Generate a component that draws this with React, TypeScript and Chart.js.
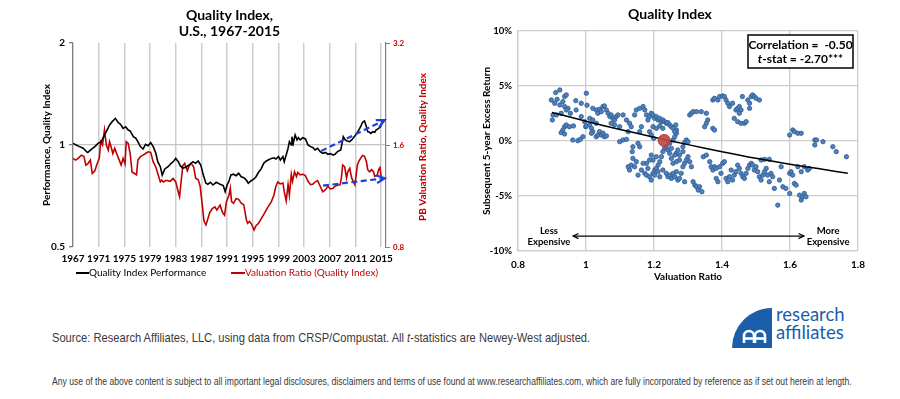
import React, { useEffect, useLayoutEffect, useRef } from "react";
import { Chart, registerables } from "chart.js";

Chart.register(...registerables);

const FONT = "Lato, 'DejaVu Sans', sans-serif";
const NARROW = "'Liberation Sans', 'DejaVu Sans', sans-serif";
const RED = "#c00000";
const BLUE_ARROW = "#2040d8";

// ---------- Left panel data ----------
const leftTitle = ["Quality Index,", "U.S., 1967-2015"];
const leftAxisTitle = "Performance, Quality Index";
const rightAxisTitle = "PB Valuation Ratio, Quality Index";
const perfLabel = "Quality Index Performance";
const pbLabel = "Valuation Ratio (Quality Index)";
const yearTicks = [1967, 1971, 1975, 1979, 1983, 1987, 1991, 1995, 1999, 2003, 2007, 2011, 2015];
const perfTicks = [0.5, 1, 2];
const pbTicks = [0.8, 1.6, 3.2];

// [year, quality index performance]
const perfSeries: [number, number][] = [
  [1967.0, 1.011], [1967.5, 1.0], [1968.0, 0.989], [1968.6, 0.978], [1969.1, 0.956], [1969.3, 0.951],
  [1969.9, 0.973], [1970.4, 0.989], [1970.9, 1.011], [1971.4, 1.023], [1971.9, 1.07], [1972.3, 1.107],
  [1972.7, 1.146], [1973.1, 1.172], [1973.6, 1.198], [1974.0, 1.167], [1974.4, 1.151], [1974.8, 1.12],
  [1975.2, 1.132], [1975.6, 1.107], [1975.9, 1.1], [1976.4, 1.058], [1976.8, 1.046], [1977.1, 1.023],
  [1977.5, 0.989], [1977.9, 0.973], [1978.3, 1.005], [1978.7, 0.995], [1979.1, 1.016], [1979.5, 0.989],
  [1979.9, 0.945], [1980.2, 0.893], [1980.6, 0.863], [1980.9, 0.815], [1981.3, 0.85], [1981.8, 0.863],
  [1982.3, 0.883], [1982.7, 0.897], [1983.0, 0.913], [1983.4, 0.893], [1983.7, 0.869], [1984.1, 0.854],
  [1984.7, 0.863], [1985.2, 0.877], [1985.7, 0.893], [1986.1, 0.883], [1986.5, 0.897], [1986.9, 0.873],
  [1987.3, 0.815], [1987.7, 0.771], [1988.0, 0.766], [1988.4, 0.776], [1988.8, 0.762], [1989.3, 0.776],
  [1989.9, 0.766], [1990.4, 0.759], [1990.7, 0.728], [1991.0, 0.762], [1991.3, 0.783], [1991.6, 0.816],
  [1992.0, 0.82], [1992.4, 0.812], [1992.8, 0.825], [1993.2, 0.806], [1993.6, 0.801], [1994.0, 0.788],
  [1994.3, 0.771], [1994.7, 0.783], [1995.2, 0.794], [1995.5, 0.806], [1995.9, 0.831], [1996.3, 0.85],
  [1996.7, 0.883], [1997.1, 0.897], [1997.4, 0.903], [1997.9, 0.913], [1998.3, 0.917], [1998.6, 0.909],
  [1999.0, 0.924], [1999.3, 0.903], [1999.7, 0.924], [1999.9, 0.893], [2000.2, 0.934], [2000.5, 0.978],
  [2000.7, 1.023], [2001.0, 1.0], [2001.1, 1.058], [2001.3, 1.011], [2001.6, 1.07], [2001.9, 1.035],
  [2002.1, 1.051], [2002.4, 1.035], [2002.8, 1.051], [2003.2, 1.042], [2003.6, 1.0], [2004.0, 0.989],
  [2004.4, 0.982], [2004.7, 0.967], [2005.1, 0.978], [2005.5, 0.956], [2005.9, 0.945], [2006.3, 0.951],
  [2006.7, 0.939], [2007.1, 0.943], [2007.5, 0.934], [2007.8, 0.939], [2008.2, 0.956], [2008.7, 0.967],
  [2008.9, 1.011], [2009.1, 1.058], [2009.4, 1.035], [2009.7, 1.028], [2010.1, 1.023], [2010.4, 1.035],
  [2010.8, 1.058], [2011.2, 1.082], [2011.5, 1.107], [2011.8, 1.132], [2012.1, 1.167], [2012.4, 1.177],
  [2012.7, 1.132], [2012.9, 1.095], [2013.2, 1.09], [2013.4, 1.082], [2013.7, 1.095], [2014.0, 1.09],
  [2014.2, 1.107], [2014.6, 1.12], [2014.9, 1.132], [2015.1, 1.159],
];

// [year, PB valuation ratio]
const pbSeries: [number, number][] = [
  [1967.0, 1.461], [1967.4, 1.444], [1967.8, 1.461], [1968.3, 1.493], [1968.7, 1.482], [1969.0, 1.396],
  [1969.3, 1.408], [1969.7, 1.444], [1970.0, 1.318], [1970.4, 1.342], [1970.7, 1.396], [1971.1, 1.467],
  [1971.3, 1.636], [1971.6, 1.6], [1971.9, 1.772], [1972.2, 1.6], [1972.5, 1.546], [1972.7, 1.636],
  [1973.0, 1.564], [1973.2, 1.51], [1973.5, 1.564], [1973.9, 1.493], [1974.2, 1.444], [1974.5, 1.396],
  [1974.8, 1.461], [1975.1, 1.408], [1975.3, 1.636], [1975.6, 1.618], [1975.9, 1.51], [1976.2, 1.33],
  [1976.6, 1.318], [1976.9, 1.306], [1977.1, 1.444], [1977.5, 1.478], [1977.9, 1.493], [1978.3, 1.51],
  [1978.7, 1.528], [1979.1, 1.522], [1979.5, 1.426], [1979.9, 1.378], [1980.2, 1.318], [1980.6, 1.245],
  [1980.8, 1.259], [1981.1, 1.245], [1981.5, 1.259], [1982.1, 1.25], [1982.6, 1.274], [1983.0, 1.245],
  [1983.4, 1.163], [1983.6, 1.126], [1984.1, 1.39], [1984.4, 1.412], [1984.8, 1.342], [1985.1, 1.39],
  [1985.4, 1.412], [1985.8, 1.378], [1986.1, 1.276], [1986.5, 1.264], [1986.8, 1.21], [1987.2, 1.039],
  [1987.4, 0.954], [1987.7, 0.929], [1987.9, 0.954], [1988.3, 1.011], [1988.7, 1.039], [1989.1, 1.051],
  [1989.4, 1.028], [1989.9, 1.063], [1990.3, 1.011], [1990.6, 0.993], [1990.9, 1.089], [1991.3, 1.137],
  [1991.5, 1.192], [1991.7, 1.089], [1992.0, 1.077], [1992.4, 1.111], [1992.8, 1.106], [1993.2, 1.077],
  [1993.6, 1.065], [1994.0, 0.963], [1994.2, 0.94], [1994.5, 0.952], [1994.8, 0.935], [1995.2, 0.898],
  [1995.5, 0.925], [1995.9, 0.94], [1996.3, 0.969], [1996.7, 0.997], [1997.1, 1.029], [1997.4, 1.053],
  [1997.9, 1.089], [1998.3, 1.139], [1998.6, 1.209], [1998.9, 1.244], [1999.3, 1.228], [1999.7, 1.236],
  [1999.9, 1.165], [2000.2, 1.094], [2000.5, 1.222], [2000.7, 1.139], [2001.0, 1.311], [2001.2, 1.25],
  [2001.5, 1.334], [2001.8, 1.291], [2002.0, 1.328], [2002.4, 1.306], [2002.8, 1.311], [2003.2, 1.3],
  [2003.6, 1.25], [2004.0, 1.222], [2004.4, 1.228], [2004.7, 1.244], [2005.1, 1.256], [2005.5, 1.209],
  [2005.9, 1.165], [2006.3, 1.179], [2006.7, 1.209], [2007.1, 1.187], [2007.5, 1.192], [2007.8, 1.209],
  [2008.2, 1.217], [2008.6, 1.222], [2008.8, 1.279], [2009.0, 1.397], [2009.3, 1.382], [2009.6, 1.279],
  [2009.8, 1.334], [2010.1, 1.366], [2010.4, 1.279], [2010.7, 1.244], [2010.9, 1.222], [2011.3, 1.397],
  [2011.5, 1.43], [2011.8, 1.464], [2012.1, 1.49], [2012.4, 1.482], [2012.7, 1.43], [2012.9, 1.353],
  [2013.2, 1.334], [2013.5, 1.353], [2013.8, 1.334], [2014.0, 1.293], [2014.4, 1.306], [2014.6, 1.353],
  [2014.8, 1.372], [2015.0, 1.293],
];

// dashed blue trend arrows: [fromYear, fromValue, toYear, toValue]
const perfArrow: [number, number, number, number] = [2005.65, 0.96, 2015.55, 1.185];
const pbArrow: [number, number, number, number] = [2005.94, 1.214, 2015.55, 1.276];

// ---------- Right panel data ----------
const rightTitle = "Quality Index";
const rightYTitle = "Subsequent 5-year Excess Return";
const rightXTitle = "Valuation Ratio";
const ratioTicks = [0.8, 1, 1.2, 1.4, 1.6, 1.8];
const returnTicks = [-10, -5, 0, 5, 10];
const statLines = ["Correlation =  -0.50", "-stat = -2.70***"];
const cheapLabel = ["Less", "Expensive"];
const richLabel = ["More", "Expensive"];
const expenseArrow: [number, number, number] = [0.962, 1.641, -8.64];
const cheapLabelPos: [number, number] = [0.891, -8.64];
const richLabelPos: [number, number] = [1.712, -8.64];
const currentPoint: [number, number] = [1.23, 0.05];

// fitted curve [valuation ratio, excess return %]
const fitCurve: [number, number][] = [
  [0.9, 2.6], [1.0, 1.8], [1.1, 1.05], [1.2, 0.35], [1.3, -0.33], [1.4, -0.97],
  [1.5, -1.57], [1.6, -2.12], [1.7, -2.6], [1.77, -2.94],
];

// [valuation ratio, subsequent 5-year excess return %]
const scatterPoints: [number, number][] = [
  [0.911, 4.4], [0.923, 4.64], [0.937, 4.04], [0.942, 4.19], [0.97, 3.67], [0.986, 3.43], [1.001, 4.34],
  [1.003, 3.25], [0.898, 3.73], [0.908, 3.43], [0.915, 3.79], [0.923, 3.28], [0.932, 3.58], [0.937, 3.13],
  [0.947, 2.97], [0.954, 2.52], [0.903, 2.37], [0.901, 1.91], [0.913, 2.37], [0.927, 2.52], [0.942, 2.82],
  [0.971, 2.82], [0.986, 2.22], [0.996, 1.76], [0.999, 1.3], [1.001, 1.37], [0.937, 1.3], [0.942, 1.46],
  [0.932, 1.0], [0.927, 0.76], [0.937, 0.64], [0.951, 1.3], [0.963, 1.37], [0.961, 0.09], [0.976, 0.03],
  [0.983, 0.15], [0.991, 0.39], [1.011, 1.46], [1.016, 1.15], [1.02, 0.85], [1.03, 0.39], [1.035, 0.55],
  [1.04, 0.85], [1.045, 0.55], [1.05, 0.7], [1.054, 0.39], [1.06, 0.46], [1.011, 2.06], [1.02, 2.97],
  [1.03, 2.82], [1.035, 2.52], [1.04, 2.88], [1.045, 2.67], [1.05, 3.13], [1.054, 3.19], [1.06, 2.82],
  [1.065, 2.52], [1.07, 2.22], [1.074, 2.37], [1.079, 2.06], [1.084, 1.91], [1.089, 2.22], [1.094, 2.37],
  [1.084, 1.46], [1.099, 1.3], [1.074, 1.61], [1.02, 1.91], [1.03, 1.61], [1.016, 0.7], [1.099, -0.06],
  [1.109, 0.09], [1.119, 0.15], [1.109, 2.37], [1.119, 1.91], [1.128, 1.61], [1.133, 1.3], [1.124, 0.85],
  [1.143, 2.37], [1.148, 2.82], [1.158, 2.97], [1.168, 3.13], [1.173, 2.82], [1.178, 2.37], [1.182, 1.91],
  [1.187, 2.22], [1.192, 2.52], [1.197, 2.37], [1.202, 2.06], [1.207, 2.22], [1.212, 1.91], [1.217, 2.06],
  [1.222, 1.76], [1.226, 1.91], [1.231, 1.76], [1.236, 1.61], [1.241, 1.67], [1.246, 1.46], [1.251, 1.3],
  [1.256, 1.15], [1.264, 1.46], [1.266, 1.0], [1.197, 1.3], [1.207, 1.15], [1.217, 1.37], [1.226, 1.15],
  [1.187, 0.85], [1.192, 0.55], [1.199, 0.24], [1.163, 1.3], [1.158, 0.85], [1.153, -0.21], [1.158, -0.52],
  [1.138, -0.52], [1.136, -0.97], [1.138, -1.58], [1.133, -2.19], [1.124, -2.34], [1.128, -2.64],
  [1.143, -2.34], [1.148, -1.88], [1.153, -3.1], [1.173, -2.94], [1.178, -3.1], [1.187, -3.25],
  [1.192, -3.55], [1.197, -2.94], [1.202, -2.64], [1.207, -2.49], [1.212, -2.19], [1.217, -1.88],
  [1.222, -1.43], [1.226, -0.97], [1.231, -0.67], [1.236, -0.52], [1.241, -0.82], [1.246, -1.12],
  [1.251, -1.58], [1.256, -2.03], [1.197, -1.73], [1.178, -2.03], [1.236, -2.94], [1.241, -3.25],
  [1.246, -3.1], [1.251, -3.4], [1.256, -2.94], [1.261, -3.25], [1.266, -2.79], [1.27, -3.55], [1.275, -3.4],
  [1.28, -2.94], [1.285, -2.34], [1.29, -2.03], [1.295, -1.73], [1.3, -1.43], [1.305, -1.88], [1.31, -2.34],
  [1.315, -3.7], [1.32, -4.01], [1.325, -4.16], [1.33, -4.46], [1.334, -4.16], [1.341, -4.61], [1.29, -3.7],
  [1.275, -1.28], [1.266, -1.12], [1.27, -0.82], [1.285, -0.52], [1.29, -0.15], [1.295, 0.09], [1.3, -0.06],
  [1.285, -0.97], [1.275, -1.73], [1.266, -1.88], [1.261, -1.28], [1.251, -0.67], [1.246, -0.21],
  [1.256, 0.09], [1.261, 0.39], [1.266, 0.7], [1.261, 0.85], [1.305, 2.37], [1.31, 2.52], [1.315, 2.67],
  [1.325, 2.67], [1.339, 2.67], [1.354, 2.52], [1.358, 1.91], [1.354, 1.61], [1.349, 1.3], [1.373, 1.15],
  [1.378, 1.0], [1.373, 3.73], [1.378, 3.88], [1.388, 3.73], [1.393, 4.04], [1.402, 4.1], [1.407, 4.04],
  [1.412, 3.73], [1.417, 3.43], [1.422, 3.13], [1.431, 3.43], [1.441, 2.82], [1.446, 2.97], [1.451, 3.13],
  [1.456, 2.82], [1.451, 2.52], [1.436, 2.06], [1.446, 1.76], [1.456, 1.61], [1.466, 1.61], [1.471, 1.76],
  [1.46, 4.04], [1.476, 3.73], [1.481, 3.43], [1.486, 4.04], [1.49, 4.19], [1.495, 4.04], [1.5, 3.88],
  [1.51, 3.73], [1.481, 2.97], [1.345, -1.43], [1.354, -1.28], [1.364, -1.88], [1.368, -2.34],
  [1.373, -2.64], [1.378, -2.34], [1.383, -2.49], [1.393, -2.34], [1.402, -2.03], [1.407, -1.88],
  [1.412, -3.4], [1.417, -3.7], [1.422, -3.25], [1.431, -3.55], [1.436, -3.1], [1.441, -2.79],
  [1.446, -2.19], [1.451, -2.49], [1.456, -2.94], [1.461, -3.25], [1.466, -3.4], [1.471, -2.94],
  [1.476, -2.49], [1.481, -2.19], [1.486, -2.03], [1.49, -2.19], [1.495, -2.64], [1.5, -2.34],
  [1.505, -2.79], [1.51, -3.25], [1.515, -3.55], [1.52, -3.1], [1.525, -2.79], [1.53, -2.49], [1.534, -3.1],
  [1.539, -3.7], [1.544, -2.94], [1.549, -3.25], [1.554, -4.31], [1.564, -5.83], [1.569, -3.55],
  [1.574, -2.34], [1.515, -1.73], [1.525, -1.67], [1.539, -1.67], [1.427, -2.64], [1.397, -2.94],
  [1.383, -3.4], [1.388, -3.7], [1.579, -4.16], [1.588, -4.31], [1.599, -4.77], [1.599, -2.94],
  [1.603, -2.79], [1.608, -3.1], [1.613, -3.86], [1.618, -4.01], [1.623, -2.34], [1.628, -4.92],
  [1.633, -5.37], [1.637, -5.07], [1.642, -4.77], [1.647, -5.07], [1.633, -2.79], [1.642, -2.34],
  [1.652, -2.64], [1.657, -2.49], [1.599, 0.55], [1.608, 1.0], [1.613, 0.85], [1.623, 0.7], [1.633, 0.7],
  [1.673, 0.09], [1.673, -0.36], [1.678, 0.09], [1.697, -0.06], [1.726, -0.52], [1.736, -0.97],
  [1.766, -1.43], [1.168, -2.03], [1.163, -2.64], [1.182, -2.49], [1.202, -3.1], [1.212, -2.79],
  [1.217, -3.25], [1.226, -2.64], [1.192, -1.28], [1.207, -1.43], [1.187, -1.73],
];

// ---------- Footer text ----------
const sourceBefore = "Source: Research Affiliates, LLC, using data from CRSP/Compustat. All ";
const sourceAfter = "-statistics are Newey-West adjusted.";
const disclaimer =
  "Any use of the above content is subject to all important legal disclosures, disclaimers and terms of use found at www.researchaffiliates.com, which are fully incorporated by reference as if set out herein at length.";

function drawArrow(
  ctx: CanvasRenderingContext2D,
  x1: number, y1: number, x2: number, y2: number,
  color: string, width: number, dash: number[], headLen: number, bothEnds = false
) {
  ctx.save();
  ctx.strokeStyle = color;
  ctx.lineWidth = width;
  ctx.setLineDash(dash);
  ctx.beginPath();
  ctx.moveTo(x1, y1);
  ctx.lineTo(x2, y2);
  ctx.stroke();
  ctx.setLineDash([]);
  const head = (tx: number, ty: number, fx: number, fy: number) => {
    const ang = Math.atan2(ty - fy, tx - fx);
    ctx.beginPath();
    ctx.moveTo(tx - headLen * Math.cos(ang - 0.45), ty - headLen * Math.sin(ang - 0.45));
    ctx.lineTo(tx, ty);
    ctx.lineTo(tx - headLen * Math.cos(ang + 0.45), ty - headLen * Math.sin(ang + 0.45));
    ctx.stroke();
  };
  head(x2, y2, x1, y1);
  if (bothEnds) head(x1, y1, x2, y2);
  ctx.restore();
}

function LeftChart() {
  const ref = useRef<HTMLCanvasElement>(null);
  useEffect(() => {
    const decor = {
      id: "leftDecor",
      afterDatasetsDraw(chart: any) {
        const { ctx, scales } = chart;
        const { x, y, y1 } = scales;
        drawArrow(ctx, x.getPixelForValue(perfArrow[0]), y.getPixelForValue(perfArrow[1]),
          x.getPixelForValue(perfArrow[2]), y.getPixelForValue(perfArrow[3]), BLUE_ARROW, 2.2, [6, 3.5], 9);
        drawArrow(ctx, x.getPixelForValue(pbArrow[0]), y1.getPixelForValue(pbArrow[1]),
          x.getPixelForValue(pbArrow[2]), y1.getPixelForValue(pbArrow[3]), BLUE_ARROW, 2.2, [6, 3.5], 9);
      },
      afterDraw(chart: any) {
        const { ctx, chartArea: ca } = chart;
        ctx.save();
        const cx = (ca.left + ca.right) / 2;
        const cy = (ca.top + ca.bottom) / 2;
        ctx.textAlign = "center";
        ctx.textBaseline = "middle";
        ctx.fillStyle = "#000";
        ctx.font = `bold 14px ${FONT}`;
        ctx.fillText(leftTitle[0], cx, 15);
        ctx.fillText(leftTitle[1], cx, 31);
        ctx.font = `bold 10px ${FONT}`;
        ctx.save();
        ctx.translate(47, cy);
        ctx.rotate(-Math.PI / 2);
        ctx.fillText(leftAxisTitle, 0, 0);
        ctx.restore();
        ctx.fillStyle = RED;
        ctx.save();
        ctx.translate(423, cy + 2);
        ctx.rotate(-Math.PI / 2);
        ctx.fillText(rightAxisTitle, 0, 0);
        ctx.restore();
        // legend
        const ly = 273;
        ctx.lineWidth = 2;
        ctx.strokeStyle = "#000";
        ctx.beginPath();
        ctx.moveTo(76, ly);
        ctx.lineTo(89, ly);
        ctx.stroke();
        ctx.textAlign = "left";
        ctx.font = `10px ${FONT}`;
        ctx.fillStyle = "#000";
        ctx.fillText(perfLabel, 89, ly);
        ctx.strokeStyle = RED;
        ctx.beginPath();
        ctx.moveTo(231, ly);
        ctx.lineTo(245, ly);
        ctx.stroke();
        ctx.fillStyle = RED;
        ctx.fillText(pbLabel, 245, ly);
        ctx.restore();
      },
    };
    const chart = new Chart(ref.current!, {
      type: "line",
      data: {
        datasets: [
          {
            label: perfLabel,
            data: perfSeries.map(([x, y]) => ({ x, y })),
            borderColor: "#000",
            borderWidth: 1.6,
            pointRadius: 0,
            yAxisID: "y",
          },
          {
            label: pbLabel,
            data: pbSeries.map(([x, y]) => ({ x, y })),
            borderColor: RED,
            borderWidth: 1.6,
            pointRadius: 0,
            yAxisID: "y1",
          },
        ],
      },
      options: {
        responsive: false,
        animation: false,
        events: [],
        layout: { padding: { top: 43, left: 0, right: 0, bottom: 0 } },
        plugins: { legend: { display: false }, title: { display: false }, tooltip: { enabled: false } },
        scales: {
          x: {
            type: "linear",
            min: 1967,
            max: 2015.75,
            afterBuildTicks: (s: any) => { s.ticks = yearTicks.map((v) => ({ value: v })); },
            afterFit: (s: any) => { s.height = 43; },
            grid: { color: "#cdcdcd", lineWidth: 1.5, drawTicks: false },
            border: { display: false },
            ticks: {
              color: "#000",
              font: { family: FONT, size: 10, weight: "bold" },
              padding: 6,
              maxRotation: 0,
              autoSkip: false,
              callback: (v: any) => String(v),
            },
          },
          y: {
            type: "logarithmic",
            position: "left",
            min: 0.5,
            max: 2,
            afterBuildTicks: (s: any) => { s.ticks = perfTicks.map((v) => ({ value: v })); },
            afterFit: (s: any) => { s.width = 73; },
            grid: {
              color: (c: any) => (c.tick && c.tick.value === 1 ? "#c4c4c4" : "rgba(0,0,0,0)"),
              lineWidth: 1.3,
              tickColor: "#808080",
              tickLength: 4,
            },
            border: { display: true, color: "#808080", width: 1.2 },
            ticks: {
              color: "#000",
              font: { family: FONT, size: 10, weight: "bold" },
              padding: 4,
              callback: (v: any) => String(v),
            },
          },
          y1: {
            type: "logarithmic",
            position: "right",
            min: 0.8,
            max: 3.2,
            afterBuildTicks: (s: any) => { s.ticks = pbTicks.map((v) => ({ value: v })); },
            afterFit: (s: any) => { s.width = 64; },
            grid: { drawOnChartArea: false, tickColor: "#808080", tickLength: 4 },
            border: { display: true, color: "#808080", width: 1.2 },
            ticks: {
              color: RED,
              font: { family: FONT, size: 8, weight: "bold" },
              padding: 3,
              callback: (v: any) => String(v),
            },
          },
        },
      },
      plugins: [decor],
    } as any);
    return () => chart.destroy();
  }, []);
  return (
    <canvas
      ref={ref}
      width={450}
      height={290}
      style={{ position: "absolute", left: 0, top: 0, width: 450, height: 290 }}
    />
  );
}

function RightChart() {
  const ref = useRef<HTMLCanvasElement>(null);
  useEffect(() => {
    const decor = {
      id: "rightDecor",
      afterDraw(chart: any) {
        const { ctx, chartArea: ca, scales } = chart;
        const { x, y } = scales;
        ctx.save();
        ctx.textAlign = "center";
        ctx.textBaseline = "middle";
        ctx.fillStyle = "#000";
        ctx.font = `bold 14px ${FONT}`;
        ctx.fillText(rightTitle, 220, 14);
        ctx.font = `bold 10px ${FONT}`;
        ctx.fillText(rightXTitle, (ca.left + ca.right) / 2, 277);
        ctx.save();
        ctx.translate(37, (ca.top + ca.bottom) / 2);
        ctx.rotate(-Math.PI / 2);
        ctx.fillText(rightYTitle, 0, 0);
        ctx.restore();
        // stats box
        const bw = 105, bh = 33;
        const bx = ca.right - 5 - bw, by = ca.top + 4;
        ctx.fillStyle = "#fff";
        ctx.fillRect(bx, by, bw, bh);
        ctx.strokeStyle = "#000";
        ctx.lineWidth = 1.5;
        ctx.strokeRect(bx, by, bw, bh);
        ctx.fillStyle = "#000";
        ctx.font = `bold 12px ${FONT}`;
        ctx.fillText(statLines[0], bx + bw / 2, by + 10);
        const w2 = ctx.measureText(statLines[1]).width;
        ctx.font = `italic bold 12px ${FONT}`;
        const wt = ctx.measureText("t").width;
        const start = bx + bw / 2 - (w2 + wt) / 2;
        ctx.textAlign = "left";
        ctx.fillText("t", start, by + 24);
        ctx.font = `bold 12px ${FONT}`;
        ctx.fillText(statLines[1], start + wt, by + 24);
        // expensive arrow
        const ay = y.getPixelForValue(expenseArrow[2]);
        drawArrow(ctx, x.getPixelForValue(expenseArrow[0]), ay, x.getPixelForValue(expenseArrow[1]), ay,
          "#000", 1.2, [], 6, true);
        ctx.textAlign = "center";
        ctx.font = `bold 9.5px ${FONT}`;
        const lx = x.getPixelForValue(cheapLabelPos[0]);
        const ly = y.getPixelForValue(cheapLabelPos[1]);
        ctx.fillText(cheapLabel[0], lx, ly - 5.5);
        ctx.fillText(cheapLabel[1], lx, ly + 5.5);
        const rx = x.getPixelForValue(richLabelPos[0]);
        const ry = y.getPixelForValue(richLabelPos[1]);
        ctx.fillText(richLabel[0], rx, ry - 5.5);
        ctx.fillText(richLabel[1], rx, ry + 5.5);
        ctx.restore();
      },
    };
    const chart = new Chart(ref.current!, {
      type: "scatter",
      data: {
        datasets: [
          {
            label: "current",
            data: [{ x: currentPoint[0], y: currentPoint[1] }],
            backgroundColor: "rgba(192,72,68,0.92)",
            borderColor: "#a8413d",
            borderWidth: 1,
            pointRadius: 6,
          },
          {
            type: "line",
            label: "fit",
            data: fitCurve.map(([x, y]) => ({ x, y })),
            borderColor: "#000",
            borderWidth: 1.5,
            pointRadius: 0,
            tension: 0.4,
          },
          {
            label: "points",
            data: scatterPoints.map(([x, y]) => ({ x, y })),
            backgroundColor: "#4f81bd",
            borderColor: "#2d5b91",
            borderWidth: 0.8,
            pointRadius: 2.2,
          },
        ],
      },
      options: {
        responsive: false,
        animation: false,
        events: [],
        layout: { padding: { top: 31, left: 0, right: 42, bottom: 0 } },
        plugins: { legend: { display: false }, title: { display: false }, tooltip: { enabled: false } },
        scales: {
          x: {
            type: "linear",
            min: 0.8,
            max: 1.8,
            afterBuildTicks: (s: any) => { s.ticks = ratioTicks.map((v) => ({ value: v })); },
            afterFit: (s: any) => { s.height = 39; },
            grid: { color: "#cdcdcd", lineWidth: 1.3, drawTicks: false },
            border: { display: true, color: "#cdcdcd", width: 1.3 },
            ticks: {
              color: "#000",
              font: { family: FONT, size: 10, weight: "bold" },
              padding: 8,
              maxRotation: 0,
              autoSkip: false,
              callback: (v: any) => String(Math.round(v * 10) / 10),
            },
          },
          y: {
            type: "linear",
            min: -10,
            max: 10,
            afterBuildTicks: (s: any) => { s.ticks = returnTicks.map((v) => ({ value: v })); },
            afterFit: (s: any) => { s.width = 68; },
            grid: { color: "#cdcdcd", lineWidth: 1.3, drawTicks: false },
            border: { display: true, color: "#cdcdcd", width: 1.3 },
            ticks: {
              color: "#000",
              font: { family: FONT, size: 9.5, weight: "bold" },
              padding: 6,
              callback: (v: any) => `${v}%`,
            },
          },
        },
      },
      plugins: [decor],
    } as any);
    return () => chart.destroy();
  }, []);
  return (
    <canvas
      ref={ref}
      width={450}
      height={290}
      style={{ position: "absolute", left: 450, top: 0, width: 450, height: 290 }}
    />
  );
}

// Text squeezed horizontally to a target width (the original uses a condensed face)
function FitText(props: { left: number; top: number; width: number; size: number; color: string; children: any }) {
  const ref = useRef<HTMLDivElement>(null);
  useLayoutEffect(() => {
    const el = ref.current!;
    el.style.transform = "none";
    const w = el.scrollWidth;
    if (w > 0) el.style.transform = `scaleX(${props.width / w})`;
  }, []);
  return (
    <div
      ref={ref}
      style={{
        position: "absolute",
        left: props.left,
        top: props.top,
        fontFamily: NARROW,
        fontSize: props.size,
        lineHeight: `${props.size + 3}px`,
        color: props.color,
        whiteSpace: "nowrap",
        transformOrigin: "0 50%",
        display: "inline-block",
      }}
    >
      {props.children}
    </div>
  );
}

function Logo() {
  return (
    <div style={{ position: "absolute", left: 730, top: 305, width: 125, height: 50 }}>
      <svg width={44} height={45} style={{ position: "absolute", left: 0, top: 0 }}>
        <path d="M 2 43 A 40 40 0 0 1 42 3 L 42 43 Z" fill="#1b5faa" />
        <g fill="none" stroke="#fff" strokeWidth={2.6} strokeLinecap="butt">
          <path d="M 14 38 V 31 A 5 5 0 0 1 24 31 V 38" />
          <path d="M 25 38 V 31 A 5 5 0 0 1 35 31 V 38" />
          <path d="M 13 33.5 H 36" />
        </g>
      </svg>
      <div
        style={{
          position: "absolute",
          left: 46,
          top: 0,
          fontFamily: FONT,
          fontSize: 18.5,
          lineHeight: "18px",
          color: "#1b5faa",
          whiteSpace: "nowrap",
        }}
      >
        research
        <br />
        affiliates
      </div>
    </div>
  );
}

export default function App() {
  useEffect(() => {
    document.body.style.margin = "0";
    document.body.style.background = "#fff";
  }, []);
  return (
    <div style={{ position: "absolute", left: 0, top: 0, width: 900, height: 399, background: "#fff", overflow: "hidden" }}>
      <LeftChart />
      <RightChart />
      <FitText left={52} top={330} width={538} size={13} color="#3a3a3a">
        {sourceBefore}
        <i>t</i>
        {sourceAfter}
      </FitText>
      <FitText left={52} top={375} width={800} size={10} color="#3a3a3a">
        {disclaimer}
      </FitText>
      <Logo />
    </div>
  );
}
